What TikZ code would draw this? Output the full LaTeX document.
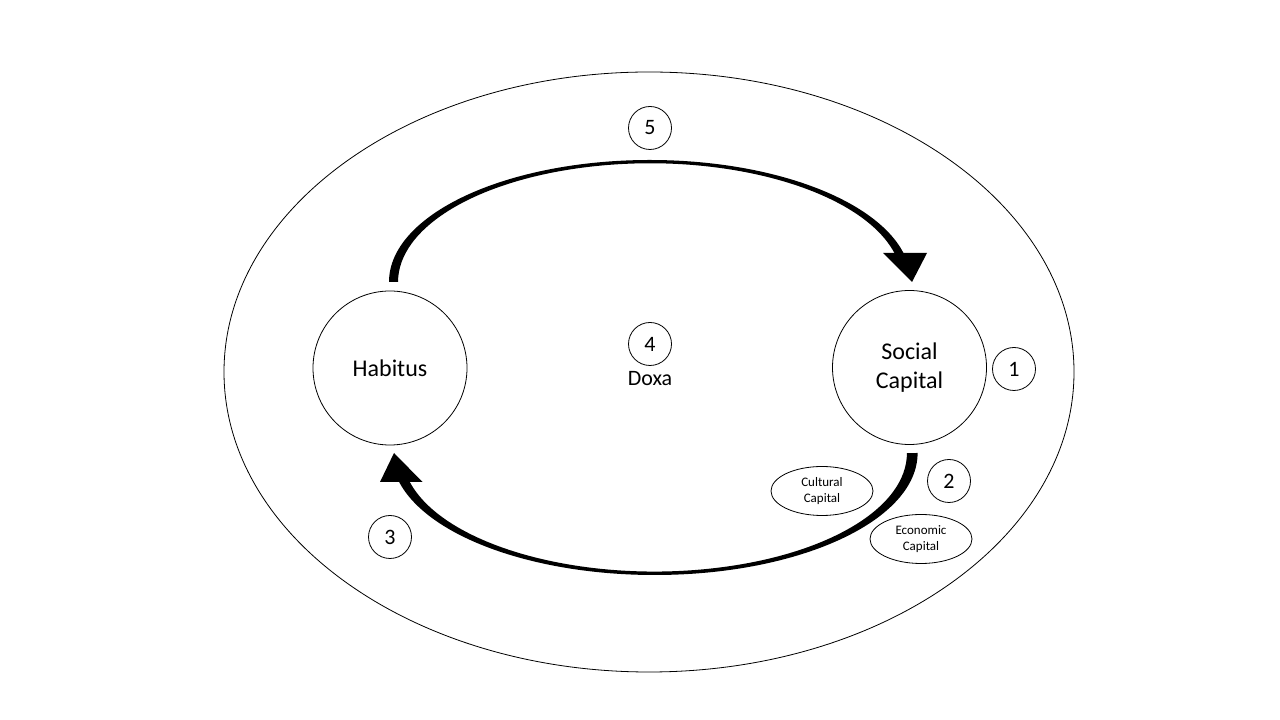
\documentclass[tikz,border=0pt]{standalone}
\usepackage{fontspec}
\setmainfont{Carlito}
\usetikzlibrary{shapes.geometric}
\tikzset{
  thin line/.style={draw=black,line width=0.8pt},
  bigcirc/.style={circle,thin line,minimum size=154pt,inner sep=0pt,align=center,font=\fontsize{24}{29}\selectfont},
  numcirc/.style={circle,thin line,minimum size=43pt,inner sep=0pt,font=\fontsize{22}{26}\selectfont},
  capell/.style={ellipse,thin line,minimum width=102pt,minimum height=49pt,inner sep=0pt,align=center,font=\fontsize{13}{16}\selectfont},
  flow/.style={fill=black}
}
\begin{document}
\begin{tikzpicture}[x=1pt,y=1pt]
\useasboundingbox (0,0) rectangle (1280,720);
\fill[white] (0,0) rectangle (1280,720);
\draw[thin line] (649,348) ellipse[x radius=425,y radius=300];
\node[bigcirc] (hab) at (390,352) {Habitus};
\node[bigcirc] (soc) at (909.5,352.5) {Social\\Capital};
\node[numcirc] (n5) at (650,592) {5};
\node[numcirc] (n4) at (650,376) {4};
\node[font=\fontsize{22}{26}\selectfont] (doxa) at (650,341) {Doxa};
\node[numcirc] (n1) at (1014,351) {1};
\node[numcirc] (n2) at (949,239) {2};
\node[numcirc] (n3) at (390,183) {3};
\node[capell] (cult) at (822,229) {Cultural\\Capital};
\node[capell] (econ) at (921,181) {Economic\\Capital};
% top curved arrow: Habitus -> Social Capital
\coordinate (t1) at (389,438);
\coordinate (t2) at (894.4,467);
\coordinate (t3) at (912,438);
\fill[flow] (t1) arc[start angle=180,end angle=13.75,x radius=261,y radius=122]
  -- (t2) arc[start angle=14.14,end angle=180,x radius=252,y radius=118.7] -- cycle;
\fill[flow] (883,467) -- (927,467) -- (t3) -- cycle;
% bottom curved arrow: Social Capital -> Habitus
\coordinate (b1) at (917.6,267);
\coordinate (b2) at (409.8,238);
\coordinate (b3) at (394,267);
\fill[flow] (b1) arc[start angle=0,end angle=-166.25,x radius=263,y radius=122]
  -- (b2) arc[start angle=-165.85,end angle=0,x radius=252.4,y radius=118.5] -- cycle;
\fill[flow] (380,238) -- (422.5,238) -- (b3) -- cycle;
\end{tikzpicture}
\end{document}
